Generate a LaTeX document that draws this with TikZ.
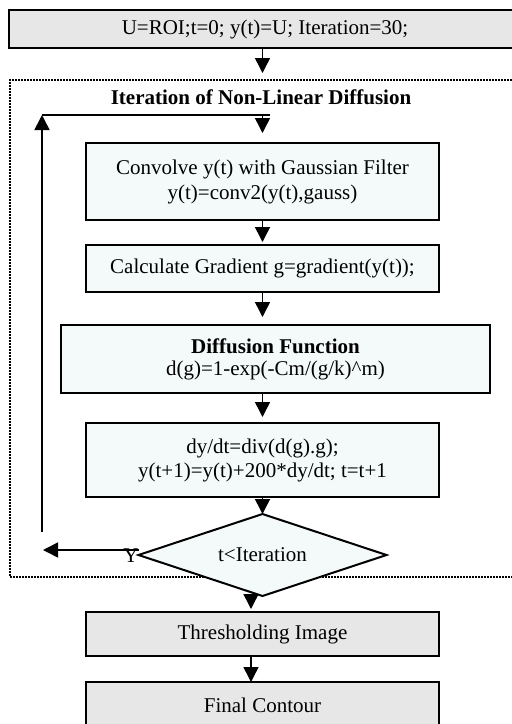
\documentclass[tikz,border=0pt]{standalone}
\usepackage{fontspec}
\setmainfont{Liberation Serif}
\usepackage{tikz}
\usetikzlibrary{shapes.geometric, positioning}
\usetikzlibrary{arrows.meta}
\tikzset{>={Triangle[width=15pt,length=15pt]}}
\definecolor{greybox}{HTML}{E6E7E6}
\definecolor{cyanbox}{HTML}{F4FAFA}

\begin{document}
\begin{tikzpicture}[x=1pt, y=-1pt, font=\fontsize{21}{25}\selectfont, greynode/.style={rectangle, draw=black, fill=greybox, line width=2pt, align=center, minimum width=353pt, inner sep=0pt, outer sep=0pt}, stepnode/.style={rectangle, draw=black, fill=cyanbox, line width=2pt, align=center, minimum width=353pt, inner sep=0pt, outer sep=0pt}, decisionnode/.style={diamond, draw=black, fill=cyanbox, line width=2pt, shape aspect=3, minimum width=248pt, minimum height=82pt, inner sep=2pt, outer sep=0pt}, framenode/.style={rectangle, draw=black, line width=1.5pt, dash pattern=on 1.5pt off 1.5pt, minimum width=520pt, minimum height=497pt, outer sep=0pt}, emptynode/.style={draw=none, fill=none, inner sep=0pt}, link/.style={line width=1.5pt}]

    \useasboundingbox (0,0) rectangle (512,724);
    \clip (0,0) rectangle (512,724);

    %Nodes
    \node[greynode, minimum width=512pt, minimum height=38pt](init) at (265,29){U=ROI;t=0; y(t)=U; Iteration=30;};
    \node[framenode](loop_frame) at (270,328.5){};
    \node[emptynode, font=\fontsize{21}{25}\selectfont\bfseries](title) at (261,97){Iteration of Non-Linear Diffusion};

    \node[stepnode, minimum height=77pt](conv) at (262.5,181.5){Convolve y(t) with Gaussian Filter\\y(t)=conv2(y(t),gauss)};
    \node[stepnode, minimum height=47pt](grad)[below=25pt of conv]{Calculate Gradient g=gradient(y(t));};
    \node[stepnode, minimum width=429pt, minimum height=68pt](diff)[below=33pt of grad, xshift=13pt]{\textbf{Diffusion Function}\\[-3pt]d(g)=1-exp(-Cm/(g/k)\textasciicircum{}m)};
    \node[stepnode, minimum height=74pt](update)[below=30pt of diff, xshift=-13pt]{dy/dt=div(d(g).g);\\[-1pt]y(t+1)=y(t)+200*dy/dt; t=t+1};
    \node[decisionnode](check)[below=17pt of update]{t<Iteration};

    \node[greynode, minimum height=44pt](thresh)[below=16pt of check]{Thresholding Image};
    \node[greynode, minimum height=46pt](final)[below=26pt of thresh]{Final Contour};

    \node[emptynode](yes_text) at (131,556){Y};

    \coordinate (loop_out) at (43,550);
    \coordinate (loop_bottom) at (42,532);
    \coordinate (loop_top) at (42,115);
    \coordinate (loop_right) at (270,115);

    %Lines
    \draw[link,->,shorten >=7pt] (init.south -| conv.north) -- (loop_frame.north -| conv.north);
    \draw[link,->] (loop_bottom) -- (loop_top);
    \draw[link] (loop_top) -- (loop_right);
    \draw[link,->,shorten >=10pt] (loop_top -| conv.north) -- (conv.north);
    \draw[link,->,shorten >=3pt] (conv.south) -- (grad.north);
    \draw[link,->,shorten >=8pt] (grad.south) -- (grad.south |- diff.north);
    \draw[link,->,shorten >=6pt] (diff.south -| update.north) -- (update.north);
    \draw[link,->] (update.south) -- (check.north);
    \draw[link,->] ([yshift=5pt]check.west) -- (loop_out);
    \draw[link,->,shorten >=3pt] ([xshift=-11.5pt]check.south) -- ([xshift=-11.5pt]thresh.north);
    \draw[link,->] ([xshift=-11.5pt]thresh.south) -- ([xshift=-11.5pt]final.north);

\end{tikzpicture}
\end{document}
